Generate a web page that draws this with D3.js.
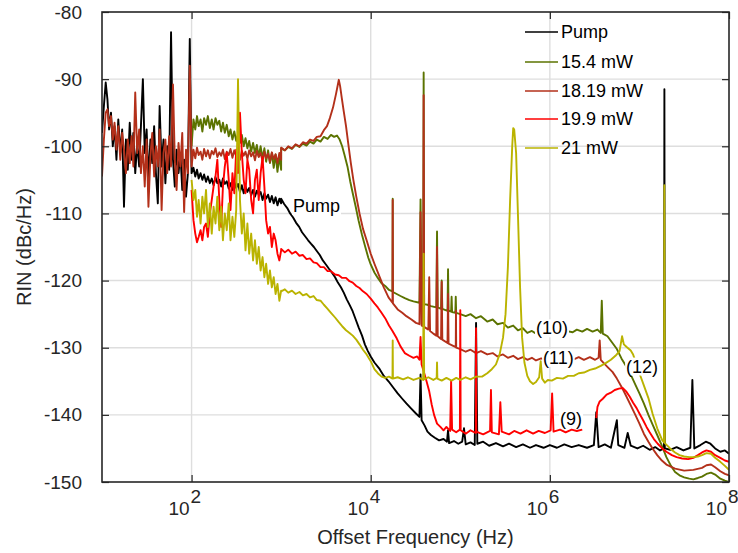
<!DOCTYPE html>
<html><head><meta charset="utf-8">
<script src="https://cdn.jsdelivr.net/npm/d3@7"></script>
<style>body{margin:0;background:#fff} text{font-family:"Liberation Sans",Arial,sans-serif;fill:#262626}</style>
</head><body><svg id="c" width="738" height="553"></svg>
<script>
// ---------- data ----------
const fLow=[10,10.5,11,11.5,12,12.6,13.2,13.8,14.5,15.2,16,16.8,17.6,18.5,19.4,20.4,21.4,22.4,23.5,24.7,26,27.2,28.6,30,31.5,33,34.7,36.4,38.2,40,42,44,46.3,48.6,51,53.5,56.2,59,62,65,68,71.5,75,78.7,82.6,86.7,91,95.5,100];
const fMid=[100,105,110,115,120,126,132,138,145,152,160,168,176,185,194,204,214,224,235,247,260,272,286,300,315,330,347,364,382,400,420,440,463,486,510,535,562,590,620,650,680,715,750,787,826,867,910,955,1000];

const pumpLow=[-98,-94,-90.5,-93,-97.5,-95,-100,-97,-102,-96,-101,-97.5,-109,-99,-103.5,-96.5,-102,-98,-104,-99.5,-103,-97,-90,-101,-97.5,-105,-99,-102.5,-97,-104,-108.5,-94,-103,-99,-105.5,-100,-103.5,-83,-102,-106,-100.5,-104,-101,-106.5,-102,-107.5,-104,-84,-104];
const brownLow=[-104.5,-99,-95,-94.5,-97,-95.5,-99,-96.5,-100.5,-97,-102,-98,-100.5,-104,-99,-102.5,-98.5,-103,-92,-101,-97.5,-104,-100,-106,-99,-109,-101.5,-98,-104.5,-100,-103,-97.5,-109.5,-101,-99,-104,-98.5,-103,-90.8,-102,-106.5,-99.5,-103,-98,-109.8,-100.5,-104,-88,-102];

const pumpMid=[-104,-103.2,-104.5,-103.5,-104.8,-104,-105,-104.2,-105.3,-104.5,-105.5,-104.8,-105.8,-104.6,-105.5,-105,-106,-104.8,-105.6,-105.2,-106.3,-105.5,-106.5,-105.3,-106.2,-105.6,-106.8,-105.8,-107,-106,-106.8,-106.2,-107.3,-106.5,-107.5,-106.6,-107.2,-106.8,-108,-107,-107.8,-107.2,-108.3,-107.4,-108.5,-107.6,-108.8,-107.8,-108.5];
const oliveMid=[-100,-96,-97.5,-95.5,-97,-96,-97.8,-95.8,-96.8,-95.5,-97.3,-96,-97.5,-95.8,-96.8,-96.2,-97.8,-96.5,-98,-96.8,-98.5,-97.5,-99,-97.8,-99.2,-98.2,-99.5,-98.3,-100,-98.8,-100.3,-99.2,-100.8,-99.5,-101,-99.8,-101.5,-100,-101.8,-100.3,-102.3,-100.6,-102.5,-101,-103.2,-101.2,-103.8,-101.5,-103.5];
const brownMid=[-103,-100.5,-101.8,-100.2,-101.3,-100.8,-102,-100.4,-101.5,-100.6,-101.8,-100.7,-101.2,-100.3,-101.6,-100.9,-101.4,-100.5,-101.9,-100.8,-101.3,-100.4,-101.7,-100.6,-101.5,-100.9,-102,-100.7,-101.4,-100.8,-101.9,-100.6,-101.5,-100.9,-102.1,-100.7,-101.6,-101,-102.2,-100.8,-101.8,-101.1,-102.3,-100.9,-101.9,-101.2,-102.5,-101,-102];
const redMid=[-106.5,-111,-113,-114.3,-113.5,-112.5,-114,-112,-111.5,-113.5,-110,-108,-106,-104.5,-102,-108,-112,-106,-103,-101,-105,-109.5,-104,-107,-100.5,-104,-95,-101,-105,-107,-102,-103.5,-108,-110,-105,-103.5,-108,-104,-101.6,-106,-111,-113,-112,-115,-113,-114,-116,-117,-115.5];
const yellowMid=[-105,-108,-106.5,-110.5,-108,-111.5,-107.5,-110,-106.5,-112,-108.5,-113,-109,-111.5,-107.5,-112.5,-109,-114,-110,-112.5,-108.5,-114,-110.5,-113.5,-109.5,-90,-108,-113,-110,-115.5,-111.5,-116,-113,-117,-114,-117.5,-115,-118.5,-116.5,-119.5,-117.5,-120.5,-118.5,-121,-119.5,-122,-120.5,-123,-121.5];

const pumpHigh=[[1000,-107.8],[1080,-108.6],[1170,-109.2],[1260,-110],[1360,-110.6],[1470,-111.4],[1590,-112],[1710,-112.8],[1850,-113.4],[2000,-114],[2150,-114.5],[2320,-115],[2500,-115.6],[2700,-116.2],[2920,-117],[3160,-117.6],[3400,-118.2],[3680,-118.8],[4000,-119.5],[4300,-120.3],[4650,-121],[5000,-121.8],[5400,-122.8],[5850,-123.7],[6300,-124.6],[6800,-125.8],[7350,-127],[8000,-128.2],[8600,-129.5],[9300,-130.5],[1e4,-131.3],[1.1e4,-132.2],[1.26e4,-133.2],[1.4e4,-134.2],[1.58e4,-135],[1.8e4,-136],[2e4,-136.8],[2.25e4,-137.6],[2.5e4,-138.3],[2.8e4,-139],[3.2e4,-139.8],[3.5e4,-140.3],[3.6e4,-134],[3.7e4,-140.8],[4e4,-141.6],[4.3e4,-142.5],[4.7e4,-143],[5.2e4,-143.4],[5.8e4,-143.8],[6.5e4,-143.6],[7.1e4,-144],[7.3e4,-142.3],[7.5e4,-144.2],[8.5e4,-143.9],[9.5e4,-144.3],[1.05e5,-144],[1.1e5,-142],[1.15e5,-144.4],[1.3e5,-144.1],[1.45e5,-144.5],[1.5e5,-126.3],[1.55e5,-144.3],[1.8e5,-144],[2.1e5,-144.6],[2.5e5,-144.2],[3e5,-144.7],[3.5e5,-144.3],[4.2e5,-144.8],[5e5,-144.4],[6e5,-144.9],[7e5,-144.5],[8.5e5,-144.9],[1e6,-144.5],[1.2e6,-144.9],[1.45e6,-144.4],[1.75e6,-144.8],[2.1e6,-144.5],[2.6e6,-144.9],[3.1e6,-144.5],[3.3e6,-139.6],[3.5e6,-144.8],[4.1e6,-144.4],[4.8e6,-144.9],[5.6e6,-140.8],[5.8e6,-144.5],[6.8e6,-144.9],[7.4e6,-142.7],[8e6,-144.6],[9.5e6,-145],[1.1e7,-144.6],[1.3e7,-145.2],[1.5e7,-144.8],[1.7e7,-145.3],[1.88e7,-145],[1.9e7,-91.5],[1.92e7,-145],[2.2e7,-145.2],[2.6e7,-144.8],[3.1e7,-145.3],[3.7e7,-144.9],[3.9e7,-134.8],[4.1e7,-145],[4.8e7,-144.5],[5.5e7,-144],[6.2e7,-144.3],[7e7,-145],[8e7,-145.5],[9e7,-145.3],[1e8,-145.8]];

const oliveHigh=[[1000,-100.3],[1100,-100.6],[1200,-100.1],[1320,-100.4],[1450,-99.8],[1600,-100.1],[1750,-99.6],[1920,-99.9],[2100,-99.3],[2300,-99.6],[2500,-99],[2750,-99.3],[3000,-98.6],[3300,-98.9],[3600,-98.3],[3900,-98.6],[4200,-98.4],[4500,-99],[4800,-100],[5100,-101.3],[5500,-103],[5900,-105.2],[6300,-107],[6800,-109],[7300,-111],[8000,-113.2],[8700,-115],[9400,-116.6],[1e4,-117.6],[1.1e4,-118.8],[1.2e4,-119.6],[1.32e4,-120.4],[1.45e4,-120.8],[1.6e4,-121.4],[1.75e4,-121.6],[1.76e4,-107.8],[1.77e4,-121.7],[1.95e4,-122],[2.15e4,-122.3],[2.4e4,-122.6],[2.7e4,-122.9],[3e4,-123.1],[3.5e4,-123.3],[3.6e4,-107.9],[3.7e4,-123.4],[3.85e4,-123.4],[3.9e4,-89],[3.95e4,-123.5],[4.3e4,-123.6],[4.7e4,-123.8],[5.4e4,-124],[5.5e4,-112.7],[5.6e4,-124],[6.1e4,-124.2],[6.2e4,-120],[6.3e4,-124.2],[7.2e4,-124.5],[7.3e4,-118.3],[7.4e4,-124.5],[7.9e4,-124.6],[8e4,-122.4],[8.1e4,-124.7],[8.8e4,-124.8],[8.9e4,-122.4],[9e4,-124.8],[1e5,-125],[1.15e5,-125.3],[1.3e5,-125],[1.5e5,-125.6],[1.7e5,-125.3],[2e5,-126.1],[2.3e5,-125.8],[2.6e5,-126.5],[3e5,-126.3],[3.4e5,-127],[3.9e5,-126.7],[4.4e5,-127.4],[5e5,-127.1],[5.6e5,-127.8],[6.3e5,-127.5],[7e5,-127.9],[8e5,-127.7],[9e5,-127.9],[1e6,-127.6],[1.2e6,-127.8],[1.5e6,-127.5],[1.8e6,-127.7],[2e6,-127.3],[2.3e6,-127.6],[2.6e6,-127.2],[3e6,-127.6],[3.4e6,-127.3],[3.7e6,-127.8],[3.8e6,-123],[3.9e6,-127.9],[4.4e6,-128.3],[5e6,-129.3],[5.6e6,-130.2],[6.3e6,-131.6],[7e6,-132.6],[8e6,-134],[9e6,-135.5],[1e7,-136.8],[1.12e7,-138.3],[1.26e7,-140],[1.4e7,-141.4],[1.58e7,-143],[1.78e7,-144.6],[2e7,-146.3],[2.25e7,-147.6],[2.5e7,-148.5],[2.8e7,-149],[3.16e7,-149.3],[3.6e7,-149.5],[4e7,-149.6],[4.5e7,-149.4],[5e7,-149.2],[5.6e7,-148.8],[6.3e7,-148.6],[7e7,-148.9],[8e7,-149.5],[9e7,-149.8],[1e8,-150]];

const brownHigh=[[1000,-100.2],[1100,-100.6],[1200,-100],[1320,-100.3],[1450,-99.7],[1600,-100],[1750,-99.4],[1920,-99.6],[2100,-99],[2300,-99.2],[2500,-98.6],[2750,-98.5],[3000,-97.6],[3250,-97],[3500,-95.8],[3800,-94.2],[4100,-92.2],[4300,-90.8],[4400,-90.1],[4550,-91],[4750,-92.8],[5000,-94.8],[5300,-97],[5600,-99.5],[6000,-102.5],[6400,-105],[6900,-107.5],[7500,-110],[8200,-112.3],[9000,-114],[1e4,-116],[1.1e4,-117.5],[1.26e4,-119.5],[1.4e4,-121],[1.58e4,-122.5],[1.75e4,-123.3],[1.76e4,-108],[1.77e4,-123.4],[2e4,-124.3],[2.25e4,-124.8],[2.5e4,-125.3],[2.85e4,-125.8],[3.2e4,-126.3],[3.5e4,-126.5],[3.6e4,-109.8],[3.7e4,-126.7],[3.85e4,-126.8],[3.9e4,-92.4],[3.95e4,-126.9],[4.4e4,-127.3],[4.5e4,-119.5],[4.6e4,-127.5],[5e4,-127.9],[5.4e4,-128.2],[5.5e4,-115],[5.6e4,-128.3],[6.1e4,-128.7],[6.2e4,-120.2],[6.3e4,-128.8],[7.2e4,-129.3],[7.3e4,-122],[7.4e4,-129.4],[8e4,-129.6],[8.9e4,-129.9],[8.95e4,-124.5],[9e4,-130],[1e5,-130.2],[1.15e5,-130.6],[1.3e5,-130.3],[1.5e5,-130.8],[1.7e5,-130.5],[2e5,-131],[2.3e5,-130.8],[2.6e5,-131.3],[3e5,-131],[3.4e5,-131.5],[3.9e5,-131.2],[4.4e5,-131.7],[5e5,-131.4],[5.6e5,-131.8],[6.3e5,-131.5],[7e5,-131.9],[8e5,-131.6],[9e5,-131.9],[1e6,-131.6],[1.2e6,-131.9],[1.5e6,-131.5],[1.8e6,-131.8],[2.1e6,-131.4],[2.4e6,-131.8],[2.8e6,-131.4],[3.2e6,-131.8],[3.5e6,-131.5],[3.6e6,-128.9],[3.7e6,-131.8],[4e6,-132.3],[4.5e6,-133],[5e6,-133.6],[5.6e6,-134.6],[6.3e6,-135.8],[7e6,-137],[8e6,-138.6],[9e6,-140],[1e7,-141.3],[1.12e7,-142.8],[1.26e7,-144],[1.4e7,-145],[1.58e7,-146],[1.78e7,-146.8],[2e7,-147.4],[2.5e7,-148],[3.16e7,-148.3],[4e7,-148.2],[5e7,-147.9],[5.6e7,-147.5],[6.3e7,-147.4],[7e7,-147.8],[8e7,-148.4],[9e7,-148.8],[1e8,-149]];

const redHigh=[[1000,-115.3],[1100,-115.8],[1200,-115.4],[1320,-116],[1450,-115.7],[1600,-116.3],[1750,-116.2],[1920,-116.8],[2100,-116.7],[2300,-117.3],[2500,-117.4],[2750,-118],[3000,-118],[3300,-118.6],[3600,-118.6],[4000,-119.1],[4400,-119.2],[4800,-119.6],[5300,-119.6],[5800,-120.1],[6300,-120.3],[6900,-120.8],[7500,-121.1],[8200,-121.6],[9000,-122],[1e4,-122.7],[1.1e4,-123.4],[1.2e4,-124],[1.32e4,-124.8],[1.45e4,-125.6],[1.6e4,-126.7],[1.75e4,-127.5],[1.95e4,-128.6],[2.15e4,-129.8],[2.4e4,-130.8],[2.7e4,-131.2],[3e4,-131.5],[3.3e4,-131.3],[3.5e4,-131.8],[3.6e4,-128.4],[3.7e4,-132.5],[3.9e4,-133.5],[4.2e4,-135],[4.5e4,-136.5],[4.8e4,-138.5],[5.1e4,-140],[5.5e4,-141.3],[6e4,-141.8],[6.5e4,-142.3],[7e4,-141.8],[7.7e4,-142.4],[7.9e4,-135],[8.1e4,-142.2],[9e4,-142.6],[9.9e4,-142.2],[1e5,-124.4],[1.01e5,-142.3],[1.15e5,-142.8],[1.3e5,-142.3],[1.49e5,-142.7],[1.5e5,-127.1],[1.51e5,-142.5],[1.8e5,-142.9],[2.15e5,-142.4],[2.2e5,-136.3],[2.25e5,-142.6],[2.7e5,-142.9],[2.8e5,-138.1],[2.9e5,-142.5],[3.5e5,-142.9],[4e5,-142.4],[4.7e5,-142.8],[5.5e5,-142.3],[6.5e5,-142.8],[7.5e5,-142.4],[8.8e5,-142.7],[1.02e6,-142.3],[1.06e6,-136.8],[1.1e6,-142.5],[1.3e6,-142.2],[1.5e6,-142.6],[1.75e6,-142.2],[2e6,-142.4],[2.3e6,-142.2],[2.8e6,null],[3.3e6,-140.5],[3.4e6,-138.8],[3.6e6,-138],[3.9e6,-137.6],[4.3e6,-137],[4.8e6,-136.7],[5.3e6,-136.3],[5.9e6,-136.1],[6.5e6,-136],[7.1e6,-136.5],[7.8e6,-137.3],[8.5e6,-138.2],[9.3e6,-139],[1e7,-139.8],[1.1e7,-140.8],[1.2e7,-141.8],[1.3e7,-142.6],[1.45e7,-143.6],[1.6e7,-144.3],[1.8e7,-145],[2e7,-145.5],[2.3e7,-146],[2.6e7,-146.3],[3e7,-146.5],[3.5e7,-146.6],[4e7,-146.4],[4.5e7,-146],[5e7,-145.6],[5.6e7,-145.3],[6.3e7,-145.5],[7e7,-146],[8e7,-146.4],[9e7,-146.8],[1e8,-147]];

const yellowHigh=[[1000,-121.6],[1100,-121.3],[1200,-121.8],[1320,-121.5],[1450,-122],[1600,-121.7],[1750,-122.2],[1920,-122],[2100,-122.5],[2300,-122.3],[2500,-122.9],[2750,-123],[3000,-123.6],[3300,-124.2],[3600,-124.8],[4000,-125.5],[4400,-126.2],[4800,-126.8],[5300,-127.4],[5800,-127.8],[6300,-128.2],[6900,-128.8],[7500,-129.5],[8200,-130.3],[9000,-131],[1e4,-132],[1.1e4,-133.2],[1.2e4,-133.8],[1.32e4,-134.3],[1.45e4,-134.5],[1.6e4,-134.3],[1.75e4,-134.6],[1.76e4,-128.9],[1.77e4,-134.6],[2e4,-134.4],[2.3e4,-134.7],[2.6e4,-134.4],[3e4,-134.8],[3.5e4,-134.5],[3.85e4,-134.8],[3.9e4,-116],[3.95e4,-134.7],[4.4e4,-134.4],[5e4,-134.8],[5.45e4,-134.5],[5.5e4,-132.2],[5.55e4,-134.6],[6.2e4,-134.9],[7e4,-134.5],[8e4,-134.9],[9e4,-134.5],[1e5,-134.8],[1.15e5,-134.4],[1.3e5,-134.7],[1.5e5,-134.3],[1.75e5,-134.3],[2e5,-133.8],[2.25e5,-133.2],[2.5e5,-132.5],[2.75e5,-131],[3e5,-128.5],[3.2e5,-125],[3.4e5,-118],[3.6e5,-108],[3.8e5,-100],[3.9e5,-97.3],[4e5,-97.5],[4.2e5,-101],[4.4e5,-110],[4.65e5,-121],[4.9e5,-128.5],[5.2e5,-132.2],[5.6e5,-134.2],[6e5,-135],[6.5e5,-135.4],[7e5,-135.1],[7.6e5,-134.4],[7.9e5,-132],[8.2e5,-134.6],[8.8e5,-135.2],[9.5e5,-134.8],[1.05e6,-134.9],[1.2e6,-134.5],[1.4e6,-134.6],[1.6e6,-134.2],[1.85e6,-134.2],[2.1e6,-133.8],[2.4e6,-133.7],[2.8e6,-133.3],[3.2e6,-133.1],[3.7e6,-132.7],[4.2e6,-132.3],[4.8e6,-131.8],[5.4e6,-131.2],[6e6,-130.5],[6.4e6,-128.3],[6.7e6,-129.5],[7.2e6,-129.9],[8e6,-130.4],[8.5e6,-131],[9e6,-132],[1e7,-133.8],[1.12e7,-135.6],[1.26e7,-137.5],[1.4e7,-139.8],[1.58e7,-142],[1.8e7,-143.8],[1.88e7,-144.1],[1.9e7,-105.8],[1.92e7,-144.2],[2.2e7,-145],[2.5e7,-145.6],[2.8e7,-146],[3.16e7,-146.2],[3.6e7,-146.3],[4e7,-146.3],[4.5e7,-146.2],[5e7,-146],[5.6e7,-145.7],[6.3e7,-145.8],[7e7,-146.4],[8e7,-147],[9e7,-147.6],[1e8,-148.2]];

const seriesNames=["Pump","15.4 mW","18.19 mW","19.9 mW","21 mW"];
const seriesColors=["#000000","#5b7300","#b3301a","#ff0000","#bab300"];
const yTicks=[-150,-140,-130,-120,-110,-100,-90,-80];
const xTicks=[1e2,1e4,1e6,1e8];
const xGrid=[1e2,1e4,1e6];
const annoText=["Pump","(10)","(11)","(12)","(9)"];
const annoF=[1355,7.0e5,8.4e5,7.1e6,1.3e6];
const annoV=[-109.8,-128,-132.4,-133.7,-141.5];

// ---------- build ----------
const zip=(fs,vs)=>fs.map((f,i)=>[f,vs[i]]);
const seriesData=[
  zip(fLow,pumpLow).concat(zip(fMid,pumpMid),pumpHigh),
  zip(fMid,oliveMid).concat(oliveHigh),
  zip(fLow,brownLow).concat(zip(fMid,brownMid),brownHigh),
  zip(fMid,redMid).concat(redHigh),
  zip(fMid,yellowMid).concat(yellowHigh)
];

const svg=d3.select("#c");
const L=102,R=729,T=12,B=482;
const x=d3.scaleLog().domain([10,1e8]).range([L,R]);
const y=d3.scaleLinear().domain([-150,-80]).range([B,T]);

svg.append("defs").append("clipPath").attr("id","pc").append("rect")
  .attr("x",L).attr("y",T).attr("width",R-L).attr("height",B-T);

// grid
const g=svg.append("g");
g.selectAll(".gx").data(xGrid).join("line").attr("x1",d=>x(d)).attr("x2",d=>x(d))
  .attr("y1",T).attr("y2",B).attr("stroke","#dedede").attr("stroke-width",1.4);
g.selectAll(".gy").data(yTicks.slice(1,-1)).join("line").attr("y1",d=>y(d)).attr("y2",d=>y(d))
  .attr("x1",L).attr("x2",R).attr("stroke","#dedede").attr("stroke-width",1.4);

// lines
const line=d3.line().defined(d=>d[1]!==null).x(d=>x(d[0])).y(d=>y(d[1]));
const lg=svg.append("g").attr("clip-path","url(#pc)");
seriesData.forEach((s,i)=>{
  lg.append("path").attr("d",line(s)).attr("fill","none").attr("stroke",seriesColors[i])
    .attr("stroke-width",1.9).attr("stroke-linejoin","round");
});

// annotations with white background
annoText.forEach((t,i)=>{
  const gg=svg.append("g");
  const r=gg.append("rect").attr("fill","#fff");
  const tx=gg.append("text").attr("x",x(annoF[i])).attr("y",y(annoV[i])).attr("font-size",18).style("fill","#000").text(t);
  const bb=tx.node().getBBox();
  r.attr("x",bb.x-1).attr("y",bb.y+1).attr("width",bb.width+2).attr("height",bb.height-2);
});

// axes
const ax=svg.append("g").attr("color","#262626");
ax.append("g").attr("transform",`translate(${L},0)`)
  .call(d3.axisLeft(y).tickValues(yTicks).tickSize(-7).tickPadding(20).tickFormat(d=>String(d)))
  .call(a=>a.select(".domain").remove())
  .call(a=>a.selectAll("text").attr("font-size",19).attr("font-family","Liberation Sans, Arial, sans-serif").style("fill","#262626"));
ax.append("g").attr("transform",`translate(${R},0)`)
  .call(d3.axisRight(y).tickValues(yTicks).tickSize(-7).tickFormat(""))
  .call(a=>a.select(".domain").remove());
ax.append("g").attr("transform",`translate(0,${B})`)
  .call(d3.axisBottom(x).tickValues(xTicks).tickSize(-7).tickFormat(""))
  .call(a=>a.select(".domain").remove());
ax.append("g").attr("transform",`translate(0,${T})`)
  .call(d3.axisTop(x).tickValues(xTicks).tickSize(-7).tickFormat(""))
  .call(a=>a.select(".domain").remove());
ax.selectAll(".tick line").attr("stroke","#262626").attr("stroke-width",1.2);
svg.append("rect").attr("x",L).attr("y",T).attr("width",R-L).attr("height",B-T)
  .attr("fill","none").attr("stroke","#262626").attr("stroke-width",1.6);

// x tick labels 10^n
xTicks.forEach(v=>{
  const e=Math.round(Math.log10(v));
  svg.append("text").attr("x",x(v)-2).attr("y",515).attr("text-anchor","end").attr("font-size",19).text("10");
  svg.append("text").attr("x",x(v)-1).attr("y",503).attr("text-anchor","start").attr("font-size",19).text(String(e));
});

// axis titles
svg.append("text").attr("x",(L+R)/2).attr("y",544).attr("text-anchor","middle").attr("font-size",20).text("Offset Frequency (Hz)");
svg.append("text").attr("transform",`translate(31,${(T+B)/2}) rotate(-90)`).attr("text-anchor","middle").attr("font-size",20).text("RIN (dBc/Hz)");

// legend
const legY=[32,62,91,119,148];
seriesNames.forEach((n,i)=>{
  svg.append("line").attr("x1",525).attr("x2",558).attr("y1",legY[i]).attr("y2",legY[i])
    .attr("stroke",seriesColors[i]).attr("stroke-width",1.5);
  svg.append("text").attr("x",561).attr("y",legY[i]).attr("dy","0.36em").attr("font-size",18).style("fill","#000").text(n);
});
</script></body></html>
